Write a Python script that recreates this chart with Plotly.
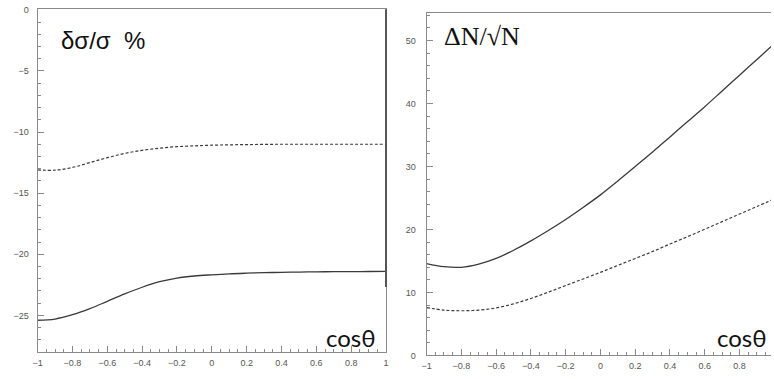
import plotly.graph_objects as go

# cos(theta) sampling points
cos_theta = [-1.0, -0.9, -0.8, -0.7, -0.6, -0.5, -0.4, -0.3, -0.2, -0.1,
             0.0, 0.1, 0.2, 0.3, 0.4, 0.5, 0.6, 0.7, 0.8, 0.9, 1.0]

# Left panel: delta sigma / sigma (%)
left_solid = [-25.4, -25.3, -24.95, -24.45, -23.85, -23.25, -22.7, -22.25, -21.95, -21.78,
              -21.68, -21.6, -21.55, -21.51, -21.48, -21.46, -21.44, -21.43, -21.42, -21.41, -21.4]
left_dashed = [-13.1, -13.12, -12.9, -12.5, -12.1, -11.75, -11.5, -11.32, -11.2, -11.13,
               -11.08, -11.05, -11.03, -11.01, -11.0, -11.0, -11.0, -11.0, -11.0, -11.0, -11.0]

# Right panel: Delta N / sqrt(N)
right_solid = [14.6, 14.1, 14.0, 14.5, 15.4, 16.7, 18.2, 19.85, 21.6, 23.5,
               25.5, 27.7, 30.0, 32.3, 34.7, 37.1, 39.5, 42.0, 44.5, 47.0, 49.5]
right_dashed = [7.6, 7.2, 7.1, 7.2, 7.55, 8.2, 9.05, 10.05, 11.1, 12.15,
                13.2, 14.3, 15.4, 16.5, 17.7, 18.85, 20.05, 21.25, 22.45, 23.65, 24.85]

x_ticks = [-1, -0.8, -0.6, -0.4, -0.2, 0, 0.2, 0.4, 0.6, 0.8, 1]
left_y_ticks = [-25, -20, -15, -10, -5, 0]
right_y_ticks = [0, 10, 20, 30, 40, 50]

line_col = "#3a3a3a"
frame_col = "#8a8a8a"
tick_font = dict(family="Liberation Sans, Arial, sans-serif", size=9, color="#555555")

fig = go.Figure()
fig.add_trace(go.Scatter(x=cos_theta, y=left_solid, mode="lines", line_shape="spline",
                         line=dict(color=line_col, width=1.3), xaxis="x", yaxis="y"))
fig.add_trace(go.Scatter(x=cos_theta, y=left_dashed, mode="lines", line_shape="spline",
                         line=dict(color=line_col, width=1.2, dash="3px,2px"), xaxis="x", yaxis="y"))
fig.add_trace(go.Scatter(x=cos_theta, y=right_solid, mode="lines", line_shape="spline",
                         line=dict(color=line_col, width=1.3), xaxis="x2", yaxis="y2"))
fig.add_trace(go.Scatter(x=cos_theta, y=right_dashed, mode="lines", line_shape="spline",
                         line=dict(color=line_col, width=1.2, dash="3px,2px"), xaxis="x2", yaxis="y2"))

common_x = dict(tickmode="linear", tick0=x_ticks[0], dtick=abs(x_ticks[1] - x_ticks[0]),
                ticks="inside", ticklen=6, tickcolor=frame_col, tickwidth=1,
                minor=dict(dtick=0.05, tick0=0, ticks="inside", ticklen=3, tickcolor=frame_col,
                           tickwidth=1, showgrid=False),
                showline=True, linecolor=frame_col, linewidth=1,
                showgrid=False, zeroline=False, tickfont=tick_font, ticklabelstandoff=2)

fig.update_layout(
    width=774, height=379,
    margin=dict(l=0, r=0, t=0, b=0),
    paper_bgcolor="white", plot_bgcolor="white",
    showlegend=False,
    xaxis=dict(domain=[0.0426, 0.4974], range=[-1, 1], mirror=True, anchor="y", **common_x),
    yaxis=dict(domain=[0.0594, 0.986], range=[-28, 0.05], anchor="x",
               tickmode="linear", tick0=0, dtick=abs(left_y_ticks[1] - left_y_ticks[0]),
               ticks="inside", ticklen=6, tickcolor=frame_col,
               minor=dict(dtick=1, tick0=0, ticks="inside", ticklen=3, tickcolor=frame_col,
                          tickwidth=1, showgrid=False),
               showline=True, linecolor=frame_col, linewidth=1, mirror=True,
               showgrid=False, zeroline=False, tickfont=tick_font, ticklabelstandoff=6),
    xaxis2=dict(domain=[0.5504, 1.0], range=[-1, 0.981], mirror=True, anchor="y2", **common_x),
    yaxis2=dict(domain=[0.0501, 0.9744], range=[0, 54.3], anchor="x2",
                tickmode="linear", tick0=0, dtick=abs(right_y_ticks[1] - right_y_ticks[0]),
                ticks="inside", ticklen=6, tickcolor=frame_col,
                minor=dict(dtick=2, tick0=0, ticks="inside", ticklen=3, tickcolor=frame_col,
                           tickwidth=1, showgrid=False),
                showline=True, linecolor=frame_col, linewidth=1,
                showgrid=False, zeroline=False, tickfont=tick_font, ticklabelstandoff=8),
)

# darker segment on the right frame of the left panel
fig.add_shape(type="line", xref="paper", yref="paper", x0=0.4974, x1=0.4974, y0=0.235, y1=0.986,
              line=dict(color="#555555", width=2))

fig.add_annotation(text="\u03b4\u03c3/\u03c3\u00a0\u00a0%", xref="paper", yref="paper", x=0.0711, y=0.902,
                   xanchor="left", yanchor="middle", showarrow=False,
                   font=dict(family="Liberation Sans, Arial, sans-serif", size=24, color="#111111"))
fig.add_annotation(text="\u0394N/\u221aN", xref="paper", yref="paper", x=0.571, y=0.913,
                   xanchor="left", yanchor="middle", showarrow=False,
                   font=dict(family="Liberation Serif, Times New Roman, serif", size=26, color="#111111"))
fig.add_annotation(text="cos\u03b8", xref="paper", yref="paper", x=0.487, y=0.100,
                   xanchor="right", yanchor="middle", showarrow=False,
                   font=dict(family="Lato, Liberation Sans, sans-serif", size=24, color="#111111"))
fig.add_annotation(text="cos\u03b8", xref="paper", yref="paper", x=0.9974, y=0.0976,
                   xanchor="right", yanchor="middle", showarrow=False,
                   font=dict(family="Lato, Liberation Sans, sans-serif", size=24, color="#111111"))

fig.write_html("out.html",
               config={"displayModeBar": False},
               post_script="document.body.style.margin='0';document.body.style.padding='0';")
